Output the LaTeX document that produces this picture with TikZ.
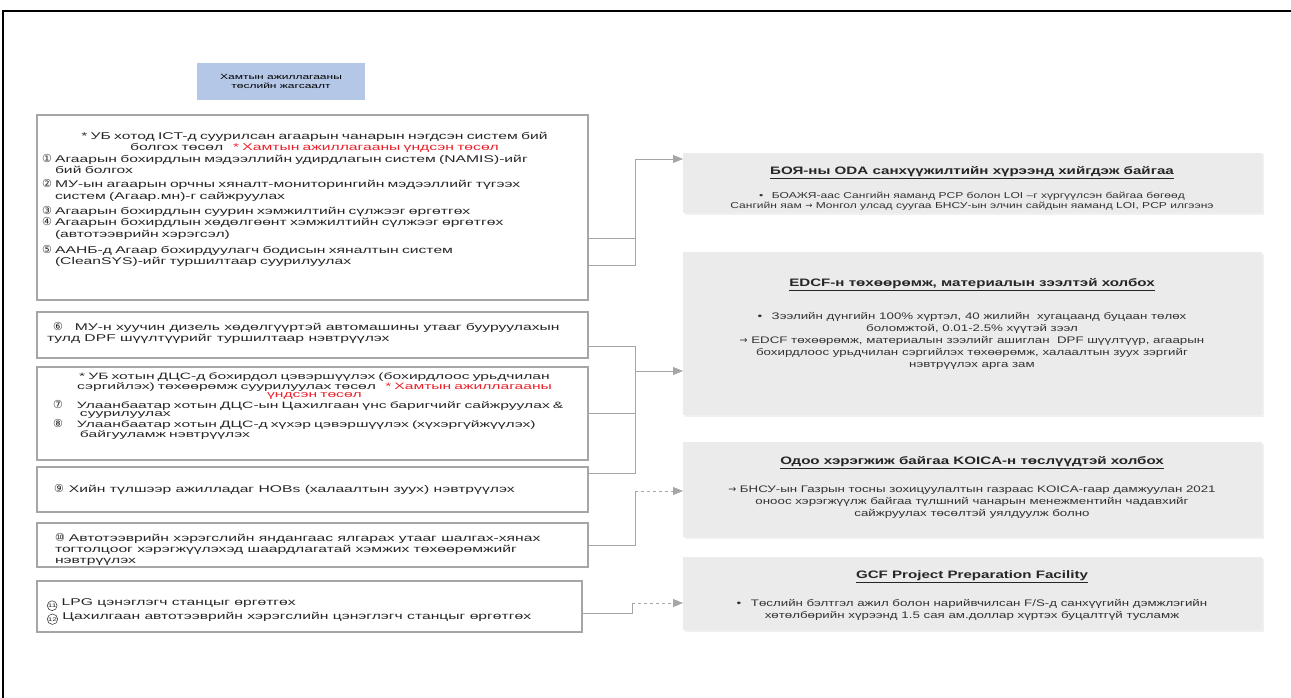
\documentclass[tikz,border=0pt]{standalone}
\usepackage{fontspec}
\setmainfont[FakeStretch=1.6]{Liberation Sans}
\newfontfamily\tightfont[FakeStretch=1.7]{Liberation Sans}
\newfontfamily\panelfont[FakeStretch=1.4]{Liberation Sans}
\newfontfamily\circfont{DejaVu Sans}
\usetikzlibrary{arrows.meta,shadows}
\definecolor{boxline}{HTML}{A6A6A6}
\definecolor{panel}{HTML}{EBEBEB}
\definecolor{hdrblue}{HTML}{B4C7E7}
\definecolor{redtxt}{HTML}{E8202A}
\newcommand\cn[1]{{\circfont\fontsize{11}{9}\selectfont #1}}
% no font here has circled 11 and 12
\newcommand\cnd[1]{\tikz[baseline=-0.7ex]\node[circle,draw,line width=0.5pt,
  inner sep=0.2pt,minimum size=9.5pt,font=\fontsize{5.2}{5.2}\selectfont]{#1};}

\begin{document}
\begin{tikzpicture}
[x=1pt,y=-1pt,%
  every node/.style={inner sep=0pt,outer sep=0pt},%
  leftbox/.style={draw=boxline,line width=1.2pt,anchor=north west},%
  lefttext/.style={font=\fontsize{9.8}{11.5}\selectfont,align=left,anchor=north west,text=black!85},%
  panelbox/.style={fill=panel,anchor=north west,minimum width=579pt,
    drop shadow={opacity=0.12,shadow xshift=1.5pt,shadow yshift=-1.5pt}},%
  paneltitle/.style={font=\panelfont\bfseries\fontsize{10.8}{13}\selectfont,text=black!85},%
  paneltext/.style={font=\panelfont\fontsize{9.5}{12}\selectfont,align=center,text=black!80},%
  link/.style={draw=gray!70,line width=0.8pt},%
  tip/.style={-{Triangle[length=10pt,width=8pt]}}]
\useasboundingbox (0,0) rectangle (1291,698);
\draw[line width=2pt] (3,698) -- (3,11) -- (1291,11);

% header
\node[fill=hdrblue,anchor=north west,minimum width=168pt,minimum height=37pt,
  align=center,font=\fontsize{7.5}{9}\selectfont] (hdr) at (197,63)
  {Хамтын ажиллагааны\\төслийн жагсаалт};

% project boxes
\node[leftbox,minimum width=551pt,minimum height=185pt] (b1) at (37,115) {};
\node[leftbox,minimum width=551pt,minimum height=46pt] (b2) at (37,312) {};
\node[leftbox,minimum width=551pt,minimum height=93pt] (b3) at (37,367) {};
\node[leftbox,minimum width=551pt,minimum height=45pt] (b4) at (37,467) {};
\node[leftbox,minimum width=551pt,minimum height=44pt] (b5) at (37,523) {};
\node[leftbox,minimum width=545pt,minimum height=51pt] (b6) at (37,581) {};

\node[lefttext,text width=545pt] (t1) at (42,132) {%
  {\centering * УБ хотод ICT-д суурилсан агаарын чанарын нэгдсэн систем бий\\
  болгох төсөл\quad\textcolor{redtxt}{* Хамтын ажиллагааны үндсэн төсөл}\par}
  \cn{①} Агаарын бохирдлын мэдээллийн удирдлагын систем (NAMIS)-ийг\\
  \hspace*{13pt}бий болгох\\[2.5pt]
  \cn{②} МУ-ын агаарын орчны хяналт-мониторингийн мэдээллийг түгээх\\
  \hspace*{13pt}систем (Агаар.мн)-г сайжруулах\\[3.5pt]
  \cn{③} Агаарын бохирдлын суурин хэмжилтийн сүлжээг өргөтгөх\\
  \cn{④} Агаарын бохирдлын хөдөлгөөнт хэмжилтийн сүлжээг өргөтгөх\\
  \hspace*{13pt}(автотээврийн хэрэгсэл)\\[4.5pt]
  \cn{⑤} ААНБ-д Агаар бохирдуулагч бодисын хяналтын систем\\
  \hspace*{13pt}(CleanSYS)-ийг туршилтаар суурилуулах};
\node[lefttext] (t2) at (47,322) {%
  \hspace*{6pt}\cn{⑥}\hspace{12pt}МУ-н хуучин дизель хөдөлгүүртэй автомашины утааг бууруулахын\\
  тулд DPF шүүлтүүрийг туршилтаар нэвтрүүлэх};
\node[lefttext,text width=545pt,font=\tightfont\fontsize{9.2}{8.2}\selectfont] (t3) at (42,373) {%
  {\centering * УБ хотын ДЦС-д бохирдол цэвэршүүлэх (бохирдлоос урьдчилан\\
  сэргийлэх) төхөөрөмж суурилуулах төсөл\quad\textcolor{redtxt}{* Хамтын ажиллагааны}\\
  \textcolor{redtxt}{үндсэн төсөл}\par}
  \hspace*{11pt}\cn{⑦}\hspace{14pt}Улаанбаатар хотын ДЦС-ын Цахилгаан үнс баригчийг сайжруулах \&\\
  \hspace*{38pt}суурилуулах\\
  \hspace*{11pt}\cn{⑧}\hspace{14pt}Улаанбаатар хотын ДЦС-д хүхэр цэвэршүүлэх (хүхэргүйжүүлэх)\\
  \hspace*{38pt}байгууламж нэвтрүүлэх};
\node[lefttext,anchor=west] (t4) at (54,489) {%
  \cn{⑨}\hspace{5pt}Хийн түлшээр ажилладаг HOBs (халаалтын зуух) нэвтрүүлэх};
\node[lefttext,font=\fontsize{9.8}{11}\selectfont] (t5) at (55,533) {%
  \cn{⑩}\hspace{4pt}Автотээврийн хэрэгслийн яндангаас ялгарах утааг шалгах-хянах\\
  тогтолцоог хэрэгжүүлэхэд шаардлагатай хэмжих төхөөрөмжийг\\
  нэвтрүүлэх};
\node[lefttext,font=\fontsize{9.8}{11}\selectfont] (t6) at (47,599) {%
  \cnd{11} LPG цэнэглэгч станцыг өргөтгөх\\
  \cnd{12} Цахилгаан автотээврийн хэрэгслийн цэнэглэгч станцыг өргөтгөх};

% support panels
\node[panelbox,minimum height=60pt] (r1) at (683,153) {};
\node[panelbox,minimum height=163pt] (r2) at (683,252) {};
\node[panelbox,minimum height=95pt] (r3) at (683,442) {};
\node[panelbox,minimum height=73pt] (r4) at (683,557) {};

\node[paneltitle] (h1) at (972,173) {\underline{БОЯ-ны ODA санхүүжилтийн хүрээнд хийгдэж байгаа}};
\node[paneltext,font=\panelfont\fontsize{8.6}{9.5}\selectfont] (p1) at (972,201) {%
  \textbullet\quad БОАЖЯ-аас Сангийн яаманд PCP болон LOI –г хүргүүлсэн байгаа бөгөөд\\
  Сангийн яам {\circfont→} Монгол улсад суугаа БНСУ-ын элчин сайдын яаманд LOI, PCP илгээнэ};
\node[paneltitle] (h2) at (972,285) {\underline{EDCF-н төхөөрөмж, материалын зээлтэй холбох}};
\node[paneltext] (p2) at (972,341) {%
  \textbullet\quad Зээлийн дүнгийн 100\% хүртэл, 40 жилийн\ \ хугацаанд буцаан төлөх\\
  боломжтой, 0.01-2.5\% хүүтэй зээл\\
  {\circfont→} EDCF төхөөрөмж, материалын зээлийг ашиглан\ \ DPF шүүлтүүр, агаарын\\
  бохирдлоос урьдчилан сэргийлэх төхөөрөмж, халаалтын зуух зэргийг\\
  нэвтрүүлэх арга зам};
\node[paneltitle] (h3) at (972,463) {\underline{Одоо хэрэгжиж байгаа KOICA-н төслүүдтэй холбох}};
\node[paneltext] (p3) at (972,502) {%
  {\circfont→} БНСУ-ын Газрын тосны зохицуулалтын газраас KOICA-гаар дамжуулан 2021\\
  оноос хэрэгжүүлж байгаа түлшний чанарын менежментийн чадавхийг\\
  сайжруулах төсөлтэй уялдуулж болно};
\node[paneltitle] (h4) at (972,577) {\underline{GCF Project Preparation Facility}};
\node[paneltext] (p4) at (972,610) {%
  \textbullet\quad Төслийн бэлтгэл ажил болон нарийвчилсан F/S-д санхүүгийн дэмжлэгийн\\
  хөтөлбөрийн хүрээнд 1.5 сая ам.доллар хүртэх буцалтгүй тусламж};

% connectors
\coordinate (j1) at (635,159);
\coordinate (j2) at (635,371);
\coordinate (j2b) at (635,473);
\coordinate (j3) at (635,491);
\coordinate (j4) at (632,603);
\draw[link] ([yshift=-30.5pt]b1.east) -| (j1);
\draw[link] ([yshift=-57.5pt]b1.east) -| (j1);
\draw[link,tip] (j1) -- (r1.west |- j1);
\draw[link] ([yshift=-11pt]b2.east) -| (j2b) -- ([yshift=16.5pt]b4.east);
\draw[link] (b3.east) -- (b3.east -| j2);
\draw[link,tip] (j2) -- (r2.west |- j2);
\draw[link] (b5.east) -| (j3);
\draw[link,dashed,tip] (j3) -- (r3.west |- j3);
\draw[link] ([yshift=-6.5pt]b6.east) -| (j4);
\draw[link,dashed,tip] (j4) -- (r4.west |- j4);
\end{tikzpicture}
\end{document}
